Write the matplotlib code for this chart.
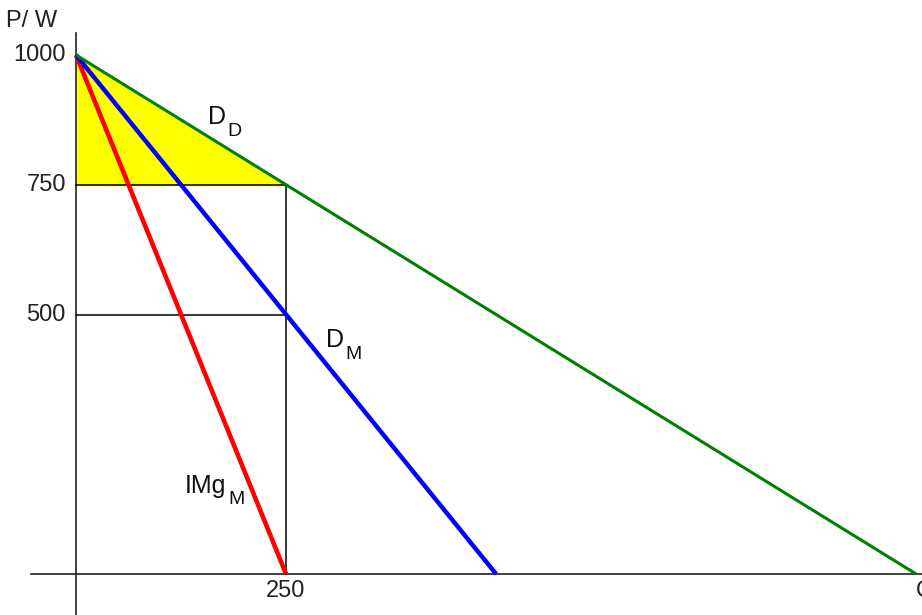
import matplotlib.pyplot as plt

plt.rcParams['font.family'] = ['Liberation Sans', 'DejaVu Sans']

# demand curves: quantity at price 0 (all start at P = 1000)
p_max = 1000
q_dd = [0, 1000]      # D_D
q_dm = [0, 500]       # D_M
q_img = [0, 250]      # IMg_M
p_line = [p_max, 0]

# reference levels
q_star = 250
p_dd = 750
p_dm = 500
y_ticks = [1000, 750, 500]
x_ticks = [250]

fig = plt.figure(figsize=(9.22, 6.15), dpi=100)
ax = fig.add_axes([0, 0, 1, 1])
ax.set_xlim(-90.5, 1007)
ax.set_ylim(-79, 1106)
ax.axis('off')

# consumer surplus triangle
ax.fill([0, 0, q_star], [p_max, p_dd, p_dd], color='#ffff00', zorder=1)

# axes
ax.plot([-54, 1010], [0, 0], color='#222222', lw=1.2, zorder=2)
ax.plot([0, 0], [-90, 1042], color='#222222', lw=1.2, zorder=2)

# guide lines
ax.plot([0, q_star, q_star], [p_dd, p_dd, 0], color='black', lw=1.1, zorder=2)
ax.plot([0, q_star], [p_dm, p_dm], color='black', lw=1.1, zorder=2)

# curves
ax.plot(q_img, p_line, color='#ff0000', lw=3.3, zorder=3, solid_capstyle='butt')
ax.plot(q_dm, p_line, color='#0000ff', lw=3.2, zorder=3, solid_capstyle='butt')
ax.plot(q_dd, p_line, color='#008000', lw=2.2, zorder=4, solid_capstyle='butt')

fs = 17
for v in y_ticks:
    ax.text(-12, v, str(v), ha='right', va='center', fontsize=fs, color='#222222')
for v in x_ticks:
    ax.text(v, -12, str(v), ha='center', va='top', fontsize=fs, color='#222222')

ax.text(-83, 1065, 'P/ W', ha='left', va='center', fontsize=fs, color='#222222')
ax.text(1000, -12, 'Q', ha='left', va='top', fontsize=fs, color='#222222')


def curve_label(x, y, main, sub):
    t = ax.text(x, y, main, fontsize=18, ha='left', va='center', color='#111111')
    fig.canvas.draw()
    bb = t.get_window_extent().transformed(ax.transData.inverted())
    ax.annotate(sub, (bb.x1, y), xytext=(1, -10), textcoords='offset points',
                fontsize=14, ha='left', va='center', color='#111111')


curve_label(157, 880, 'D', 'D')
curve_label(298, 450, 'D', 'M')
curve_label(130, 170, 'IMg', 'M')

fig.savefig('out.png', dpi=100)
